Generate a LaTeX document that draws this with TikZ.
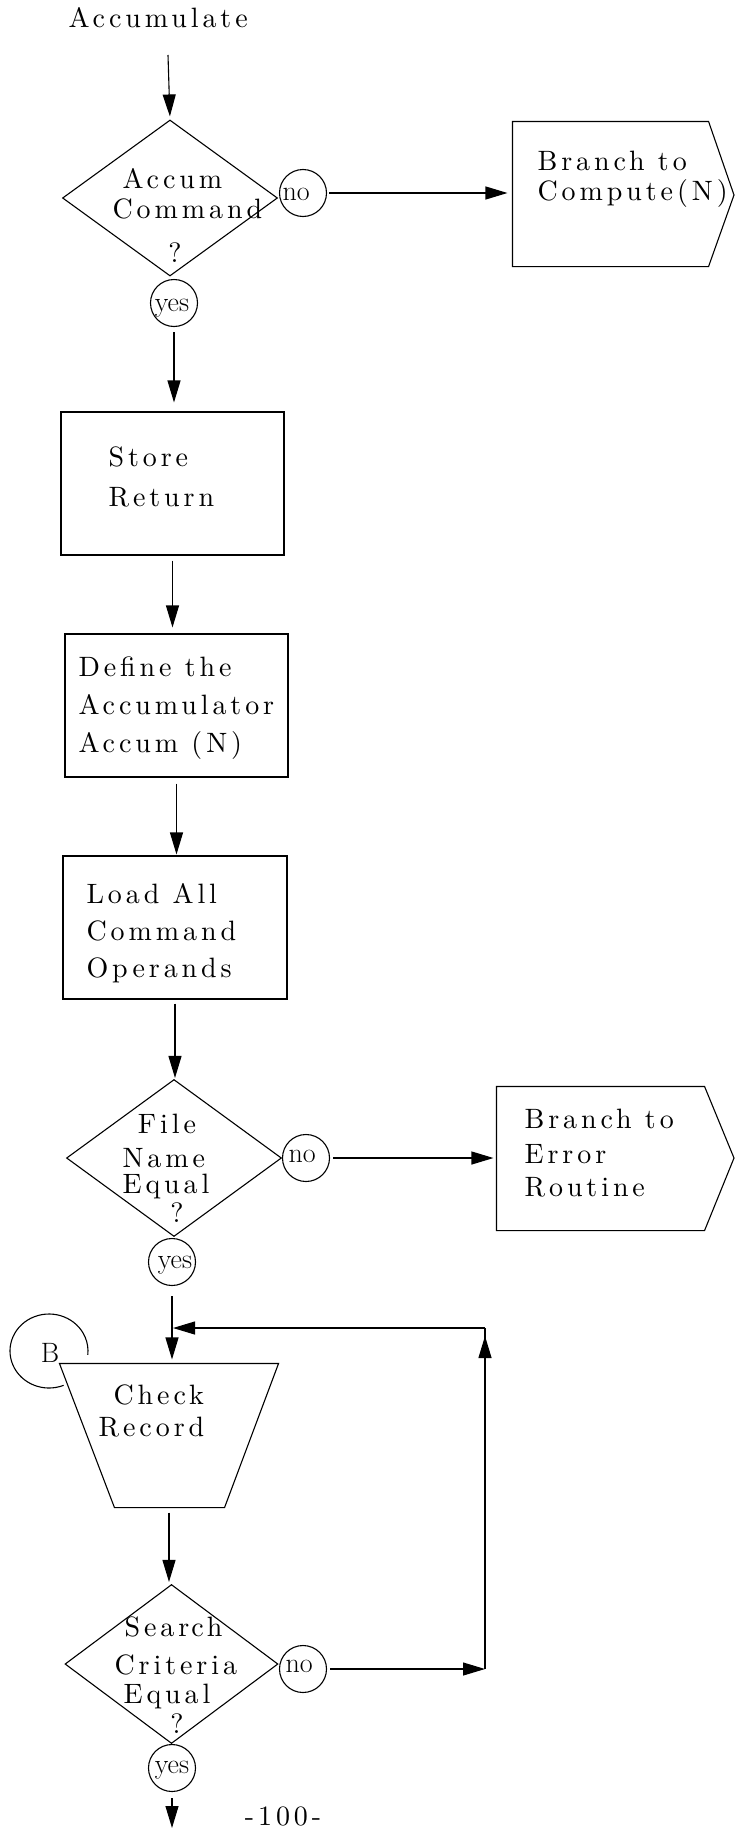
\documentclass[tikz,border=0pt]{standalone}
\usepackage{fontspec}
\usetikzlibrary{arrows.meta,shapes.geometric,calc}
\newfontfamily\lmsp{lmroman10-regular.otf}[LetterSpace=14]
\newcommand\twf{\lmsp\fontsize{28}{32}\selectfont}
\newcommand\clf{\fontsize{28}{32}\selectfont}
\begin{document}
\begin{tikzpicture}[x=1pt,y=-1pt,
  line width=1.1pt,
  arr/.style={-{Triangle[length=22pt,width=13pt]}},
  boxshape/.style={draw,rectangle,inner sep=0pt},
  dia/.style={draw,diamond,inner sep=0pt},
  ring/.style={draw,circle,inner sep=0pt,minimum size=47pt},
  lbl/.style={anchor=base west,inner sep=0pt,font=\twf},
  cbl/.style={anchor=base,inner sep=0pt,font=\twf},
  clbl/.style={anchor=base,inner sep=0pt,font=\clf},
  nlbl/.style={anchor=base west,inner sep=0pt,font=\clf},
  hid/.style={inner sep=0pt,rectangle}]
\useasboundingbox (0,0) rectangle (734,1828);

% start
\node[lbl] (tAcc) at (68,28) {Accumulate};
\coordinate (s0) at (168,55);

% decision 1
\node[dia, minimum width=215pt, minimum height=156pt] (d1) at (170,198) {};
\node[lbl] (tD1a) at (122,188) {Accum};
\node[lbl] (tD1b) at (112,218) {Command};
\node[cbl] (tD1c) at (175,262) {?};
\node[ring] (n1) at (303,193) {};
\node[nlbl] (tN1) at (282,200) {no};
\node[ring] (yes1) at (174,303) {};
\node[clbl] (tY1) at (172,311) {yes};

% branch to compute
\node[hid, minimum width=195pt, minimum height=144pt] (cmp) at (610.5,194) {};
\coordinate (cmpTip) at (734,195);
\draw (cmp.north west) -- (cmp.north east) -- (cmpTip) -- (cmp.south east) -- (cmp.south west) -- cycle;
\node[lbl] (tC1) at (537,170) {Branch to};
\node[lbl] (tC2) at (537,200) {Compute\hspace{4pt}(N)};

% store return
\node[boxshape, minimum width=223pt, minimum height=143pt] (store) at (172.5,483.5) {};
\node[lbl] (tS1) at (108,466) {Store};
\node[lbl] (tS2) at (108,506) {Return};

% define
\node[boxshape, minimum width=223pt, minimum height=143pt] (define) at (176.5,705.5) {};
\node[lbl] (tF1) at (78,676) {Define the};
\node[lbl] (tF2) at (78,714) {Accumulator};
\node[lbl] (tF3) at (78,752) {Accum (N)};

% load
\node[boxshape, minimum width=224pt, minimum height=143pt] (load) at (175,927.5) {};
\node[lbl] (tL1) at (86,903) {Load All};
\node[lbl] (tL2) at (86,940) {Command};
\node[lbl] (tL3) at (86,977) {Operands};

% decision 2
\node[dia, minimum width=215pt, minimum height=157pt] (d2) at (174,1158) {};
\node[cbl] (tD2a) at (167,1133) {File};
\node[lbl] (tD2b) at (122,1167) {Name};
\node[lbl] (tD2c) at (122,1193) {Equal};
\node[cbl] (tD2d) at (177,1222) {?};
\node[ring] (n2) at (306,1158) {};
\node[nlbl] (tN2) at (288,1162) {no};
\node[ring] (yes2) at (172,1262) {};
\node[clbl] (tY2) at (175,1268) {yes};

% branch to error
\node[hid, minimum width=207pt, minimum height=143pt] (err) at (600.5,1158.5) {};
\coordinate (errTip) at (734,1158);
\draw (err.north west) -- (err.north east) -- (errTip) -- (err.south east) -- (err.south west) -- cycle;
\node[lbl] (tE1) at (524,1128) {Branch to};
\node[lbl] (tE2) at (524,1163) {Error};
\node[lbl] (tE3) at (524,1196) {Routine};

% connector B
\coordinate (bc) at (49,1351);
\draw (bc) ++(68:39 and 37) arc[start angle=68, end angle=366, x radius=39, y radius=37];
\node[clbl] (tB) at (50,1362) {B};

% check record
\node[hid, minimum width=218pt, minimum height=143pt] (trap) at (169,1435.5) {};
\draw (trap.north west) -- (trap.north east) -- ([xshift=-54pt]trap.south east) -- ([xshift=55pt]trap.south west) -- cycle;
\node[lbl] (tK1) at (113,1404) {Check};
\node[lbl] (tK2) at (98,1436) {Rec\hspace{4pt}ord};

% decision 3
\node[dia, minimum width=213pt, minimum height=159pt] (d3) at (171.5,1664) {};
\node[lbl] (tD3a) at (124,1636) {Sear\hspace{2pt}ch};
\node[lbl] (tD3b) at (114,1674) {Criteria};
\node[lbl] (tD3c) at (123,1703) {Equal};
\node[cbl] (tD3d) at (177,1733) {?};
\node[ring] (n3) at (303,1669) {};
\node[nlbl] (tN3) at (285,1672) {no};
\node[ring] (yes3) at (172,1768) {};
\node[clbl] (tY3) at (172,1773) {yes};

\node[cbl] (tPage) at (283,1825) {-100-};

% feedback coordinates
\coordinate (fbB) at (485,1669);
\coordinate (fbT) at (485,1328);
\coordinate (fbJ) at (173,1328);
\coordinate (eout) at (172,1828);

% connectors
\draw[arr, shorten >=3pt] (s0) -- (d1.north);
\draw[arr, shorten <=2pt, shorten >=5pt] (n1.east) -- (n1.east -| cmp.west);
\draw[arr, shorten <=5pt, shorten >=9pt] (yes1.south) -- (yes1.south |- store.north);
\draw[arr, shorten <=5pt, shorten >=6pt] (store.south) -- (store.south |- define.north);
\draw[arr, shorten <=6pt, shorten >=1pt] (define.south) -- (define.south |- load.north);
\draw[arr, shorten <=4pt, shorten >=1pt] (load.south) -- (load.south |- d2.north);
\draw[arr, shorten <=3pt, shorten >=3pt] (n2.east) -- (n2.east -| err.west);
\draw[arr, shorten <=10pt, shorten >=4pt] (yes2.south) -- (yes2.south |- trap.north);
\draw[arr, shorten <=5pt, shorten >=2pt] (trap.south) -- (trap.south |- d3.north);
\draw[arr, shorten <=3pt] (n3.east) -- (fbB);
\draw (fbB) -- (fbT);
\draw[arr, shorten >=8pt] (fbB) -- (fbT);
\draw[arr] (fbT) -- (fbJ);
\draw[arr, shorten <=6pt] (yes3.south) -- (eout);
\end{tikzpicture}
\end{document}
